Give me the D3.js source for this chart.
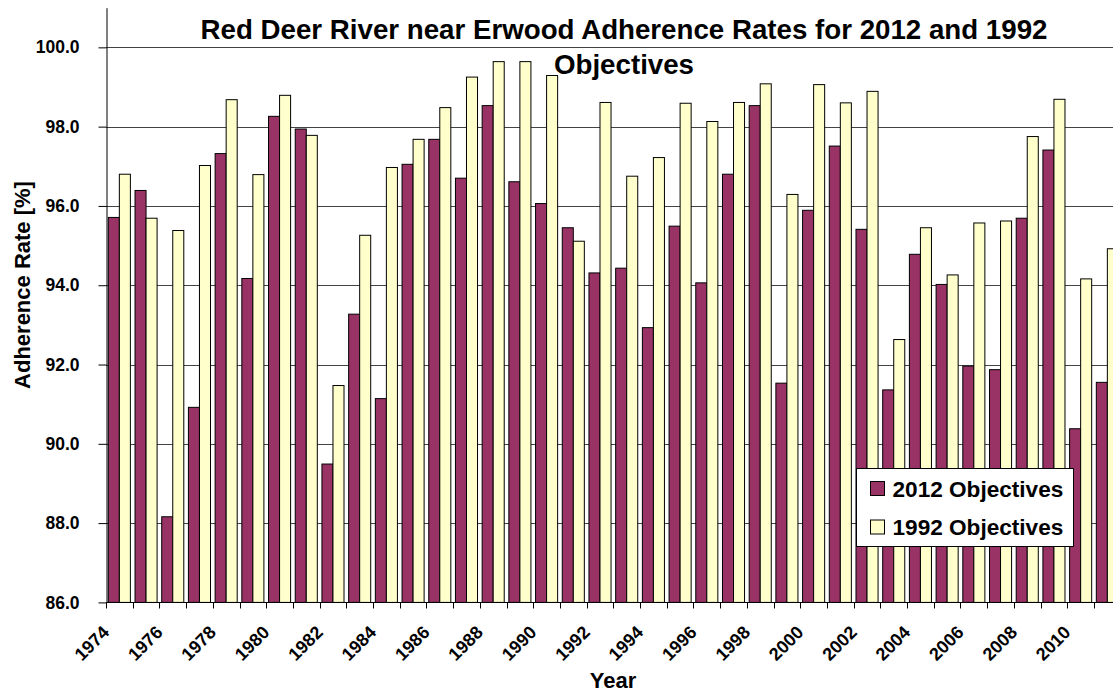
<!DOCTYPE html>
<head>
	<meta charset="utf-8">
	<script src="https://d3js.org/d3.v7.min.js"></script>
	<style>
		body { margin: 0; background: #fff; }
		svg { display: block; font-family: Arial, 'Liberation Sans', sans-serif; font-weight: bold; }
	</style>
</head>
<body>
<svg></svg>
<script>
	var years = [1974, 1975, 1976, 1977, 1978, 1979, 1980, 1981, 1982, 1983, 1984, 1985, 1986, 1987, 1988, 1989,
		1990, 1991, 1992, 1993, 1994, 1995, 1996, 1997, 1998, 1999, 2000, 2001, 2002, 2003, 2004, 2005, 2006,
		2007, 2008, 2009, 2010, 2011];
	var obj2012 = [95.71, 96.39, 88.16, 90.92, 97.32, 94.17, 98.26, 97.94, 89.49, 93.27, 91.14, 97.05, 97.68, 96.70,
		98.53, 96.61, 96.06, 95.45, 94.31, 94.43, 92.93, 95.49, 94.06, 96.80, 98.53, 91.53, 95.89, 97.51, 95.41,
		91.36, 94.78, 94.02, 91.96, 91.87, 95.69, 97.41, 90.38, 91.55];
	var obj1992 = [96.80, 95.69, 95.38, 97.02, 98.68, 96.79, 98.79, 97.78, 91.47, 95.26, 96.97, 97.68, 98.48, 99.25,
		99.64, 99.64, 99.29, 95.11, 98.61, 96.75, 97.22, 98.59, 98.13, 98.61, 99.08, 96.29, 99.06, 98.60, 98.89,
		92.63, 95.45, 94.26, 95.57, 95.62, 97.75, 98.69, 94.16, 94.92];
	var seriesNames = ['2012 Objectives', '1992 Objectives'];
	var seriesColors = ['#993366', '#FFFFCC'];
	var yTicks = [86, 88, 90, 92, 94, 96, 98, 100];
	var titleLines = ['Red Deer River near Erwood Adherence Rates for 2012 and 1992', 'Objectives'];

	var width = 1113, height = 696;
	var plotLeft = 106, plotBottom = 602.4, plotTop = 7.7, plotRight = 1120.7;

	var svg = d3.select('svg').attr('width', width).attr('height', height);

	var x0 = d3.scaleBand().domain(years).range([plotLeft, plotRight]).padding(0);
	var x1 = d3.scaleBand().domain([0, 1]).range([0, x0.bandwidth()]).paddingOuter(0.21);
	var y = d3.scaleLinear().domain([86, 101]).range([plotBottom, plotTop]);

	var rows = years.map(function (d, i) {
		return {year: d, values: [obj2012[i], obj1992[i]]};
	});

	/* --------- GRID ---------*/

	svg.append('g')
		.selectAll('line')
		.data(yTicks)
		.enter()
		.append('line')
		.attr('x1', plotLeft)
		.attr('x2', width)
		.attr('y1', function (d) { return Math.round(y(d)) + 0.5; })
		.attr('y2', function (d) { return Math.round(y(d)) + 0.5; })
		.attr('stroke', '#444');

	/* --------- BARS ---------*/

	var groups = svg.append('g')
		.selectAll('g')
		.data(rows)
		.enter()
		.append('g')
		.attr('transform', function (d) { return 'translate(' + x0(d.year) + ',0)'; });

	groups.selectAll('rect')
		.data(function (d) { return d.values; })
		.enter()
		.append('rect')
		.attr('x', function (d, i) { return x1(i); })
		.attr('y', function (d) { return y(d); })
		.attr('width', x1.bandwidth())
		.attr('height', function (d) { return y(86) - y(d); })
		.attr('fill', function (d, i) { return seriesColors[i]; })
		.attr('stroke', '#000')
		.attr('stroke-width', 1);

	/* --------- AXES ---------*/

	var yAxis = svg.append('g')
		.attr('transform', 'translate(' + (plotLeft + 0.5) + ',0)')
		.call(d3.axisLeft(y).tickValues(yTicks).tickFormat(d3.format('.1f')).tickSize(8).tickPadding(19).tickSizeOuter(0));
	yAxis.attr('font-family', null).attr('font-size', null);
	yAxis.select('.domain').attr('stroke', '#000');
	yAxis.selectAll('line').attr('stroke', '#000');
	yAxis.selectAll('text').style('font-size', '17.5px').attr('fill', '#000');

	var xAxis = svg.append('g')
		.attr('transform', 'translate(0,' + (Math.round(plotBottom) + 0.5) + ')');
	xAxis.append('line')
		.attr('x1', plotLeft)
		.attr('x2', width)
		.attr('stroke', '#000');
	xAxis.selectAll('line.tick')
		.data(years)
		.enter()
		.append('line')
		.attr('class', 'tick')
		.attr('x1', function (d) { return Math.round(x0(d)) + 0.5; })
		.attr('x2', function (d) { return Math.round(x0(d)) + 0.5; })
		.attr('y1', 0)
		.attr('y2', 6)
		.attr('stroke', '#000');
	xAxis.selectAll('text')
		.data(years.filter(function (d) { return d % 2 === 0; }))
		.enter()
		.append('text')
		.attr('transform', function (d) {
			return 'translate(' + (x0(d) + x0.bandwidth() / 2 - 9) + ',31) rotate(-45)';
		})
		.attr('text-anchor', 'end')
		.style('font-size', '18px')
		.text(function (d) { return d; });

	/* --------- TITLES ---------*/

	svg.selectAll('text.title')
		.data(titleLines)
		.enter()
		.append('text')
		.attr('class', 'title')
		.attr('x', 624)
		.attr('y', function (d, i) { return 39 + i * 35; })
		.attr('text-anchor', 'middle')
		.style('font-size', '27.7px')
		.text(function (d) { return d; });

	svg.append('text')
		.attr('transform', 'translate(30,285) rotate(-90)')
		.attr('text-anchor', 'middle')
		.style('font-size', '22px')
		.text('Adherence Rate [%]');

	svg.append('text')
		.attr('x', 613)
		.attr('y', 688)
		.attr('text-anchor', 'middle')
		.style('font-size', '22px')
		.text('Year');

	/* --------- LEGEND ---------*/

	var legend = svg.append('g').attr('transform', 'translate(856.5,468.5)');
	legend.append('rect')
		.attr('width', 217)
		.attr('height', 78)
		.attr('fill', '#fff')
		.attr('stroke', '#000');
	var items = legend.selectAll('g.item')
		.data(seriesNames)
		.enter()
		.append('g')
		.attr('class', 'item')
		.attr('transform', function (d, i) { return 'translate(0,' + (13 + i * 38.5) + ')'; });
	items.append('rect')
		.attr('x', 14)
		.attr('width', 14)
		.attr('height', 14)
		.attr('fill', function (d, i) { return seriesColors[i]; })
		.attr('stroke', '#000');
	items.append('text')
		.attr('x', 36)
		.attr('y', 15)
		.style('font-size', '22.6px')
		.text(function (d) { return d; });
</script>
</body>
